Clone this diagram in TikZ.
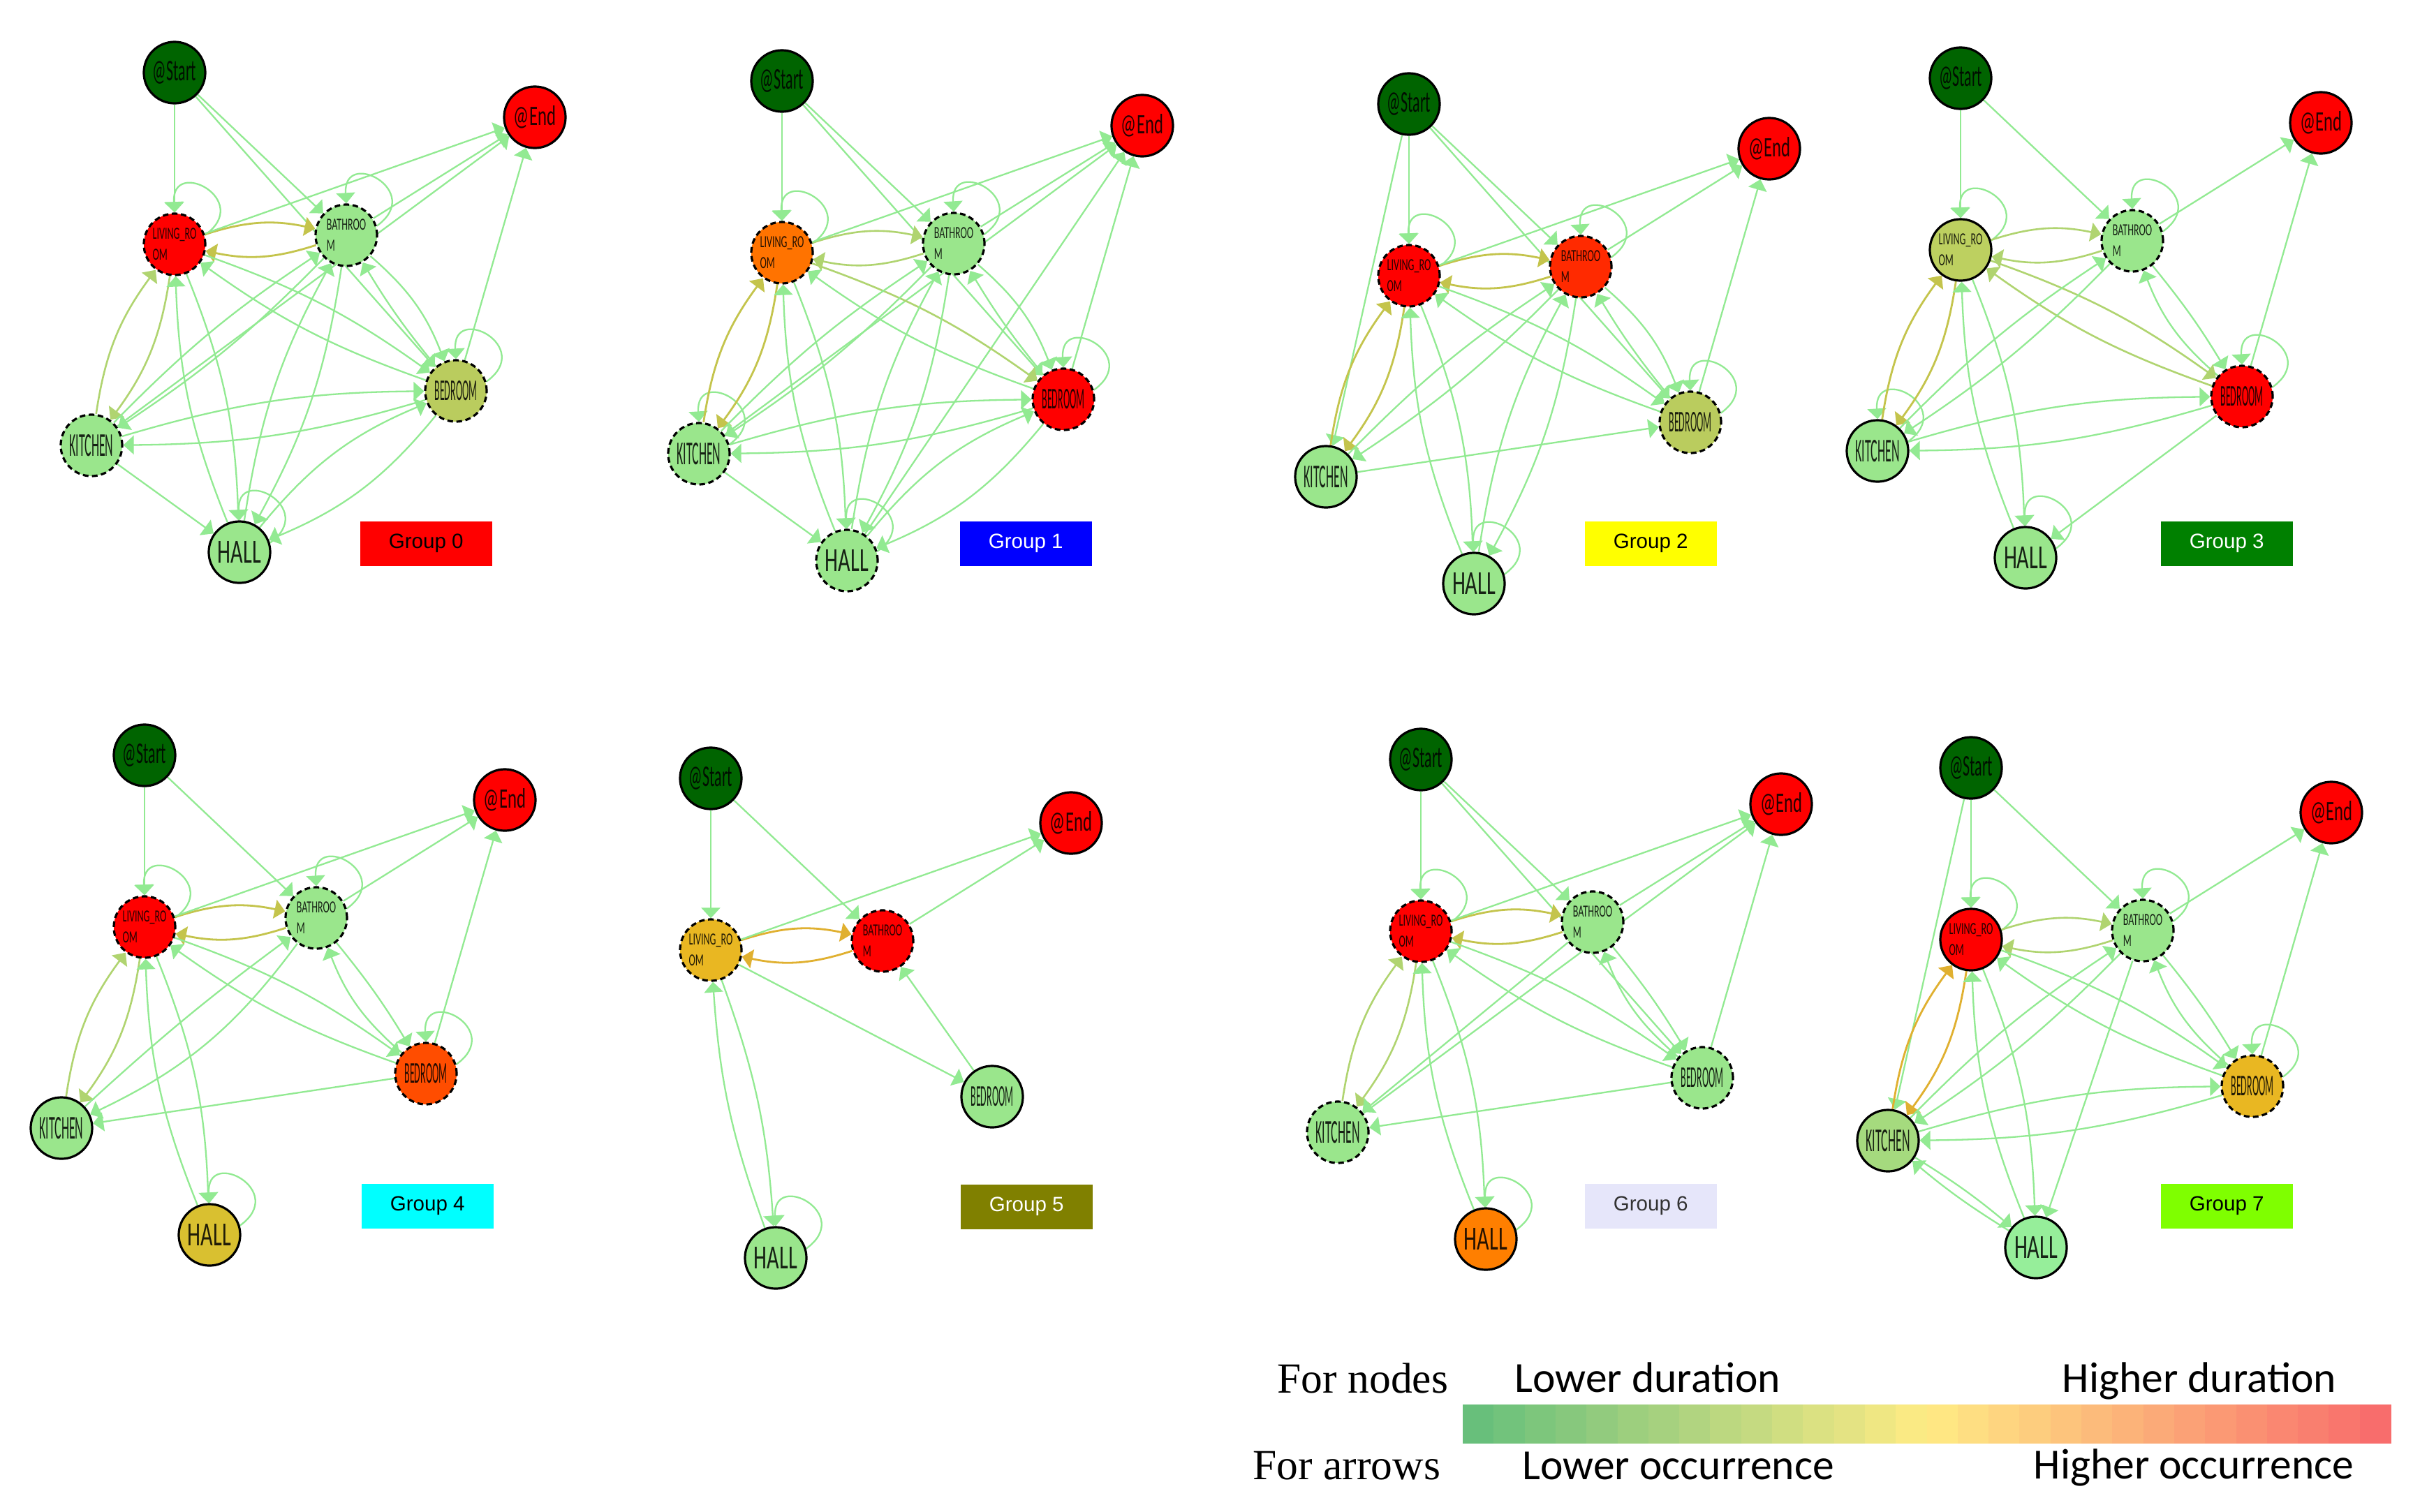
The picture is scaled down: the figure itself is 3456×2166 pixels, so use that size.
\documentclass[tikz,border=0pt]{standalone}
\usepackage{fontspec}
\usepackage{graphicx}
\setmainfont{Liberation Serif}
\newfontfamily\calib{Carlito}
\newfontfamily\arialf{Liberation Sans}
\newfontfamily\condf[FakeStretch=0.58]{Carlito}
\usetikzlibrary{arrows.meta,backgrounds}
\definecolor{cS}{HTML}{006400}
\definecolor{cR}{HTML}{FF0000}
\definecolor{cLG}{HTML}{9AE68C}
\definecolor{cOl}{HTML}{BACC5E}
\definecolor{cOr}{HTML}{FF7300}
\definecolor{cRO}{HTML}{FF2A00}
\definecolor{cOlt}{HTML}{BDD060}
\definecolor{cORf}{HTML}{FF4D00}
\definecolor{cGdf}{HTML}{D9C030}
\definecolor{cGd}{HTML}{E9B722}
\definecolor{cHo}{HTML}{FF7F00}
\definecolor{cKs}{HTML}{A5DA7E}
\definecolor{cHs}{HTML}{96EE9A}
\definecolor{eG}{HTML}{92EA92}
\definecolor{eY}{HTML}{C4C44C}
\definecolor{eYG}{HTML}{B0D470}
\definecolor{eGd}{HTML}{E0B030}
\definecolor{lgG}{HTML}{63BE7B}
\definecolor{lgY}{HTML}{FFEB84}
\definecolor{lgR}{HTML}{F8696B}
\definecolor{glB}{HTML}{0000FF}
\definecolor{glY}{HTML}{FFFF00}
\definecolor{glG}{HTML}{008000}
\definecolor{glC}{HTML}{00FFFF}
\definecolor{glO}{HTML}{808000}
\definecolor{glL}{HTML}{E6E6FA}
\definecolor{glCh}{HTML}{7FFF00}
\tikzset{
  nd/.style={circle,draw=black,line width=0.032cm,minimum size=0.88cm,inner sep=0pt,text=black,text opacity=0.85},
  dsh/.style={dash pattern=on 0.08cm off 0.05cm},
  lb/.style={align=left,font=\condf\fontsize{6.9pt}{8.5pt}\selectfont},
  ed/.style={draw=eG,line width=0.023cm,-{Triangle[length=0.15cm,width=0.27cm]}},
  yl/.style={draw=eY,line width=0.028cm},
  ygl/.style={draw=eYG,line width=0.026cm},
  gdl/.style={draw=eGd,line width=0.028cm},
  glab/.style={anchor=north west,minimum width=1.89cm,minimum height=0.64cm,inner sep=0pt,font=\arialf\fontsize{8.4pt}{10pt}\selectfont},
  lgt/.style={anchor=base west,inner sep=0pt},
}
\newcommand\labS{\resizebox{0.62cm}{0.28cm}{\calib @Start}}
\newcommand\labE{\resizebox{0.60cm}{0.28cm}{\calib @End}}
\newcommand\labH{\resizebox{0.62cm}{0.31cm}{\calib HALL}}
\newcommand\labK{\resizebox{0.63cm}{0.31cm}{\calib KITCHEN}}
\newcommand\labD{\resizebox{0.61cm}{0.28cm}{\calib BEDROOM}}
\newcommand\MkS{\node[nd,fill=cS] (\gp S) at (250,-104) {\labS};}
\newcommand\MkE{\node[nd,fill=cR] (\gp E) at (766,-168) {\labE};}
\newcommand\MkL[1]{\node[nd,lb,#1] (\gp L) at (250,-350) {LIVING\_RO\\OM};}
\newcommand\MkB[1]{\node[nd,lb,#1] (\gp B) at (496,-337) {BATHROO\\M};}
\newcommand\MkD[1]{\node[nd,#1] (\gp D) at (653,-560) {\labD};}
\newcommand\MkK[1]{\node[nd,#1] (\gp K) at (131,-638) {\labK};}
\newcommand\MkH[1]{\node[nd,#1] (\gp H) at (343,-791) {\labH};}
\newcommand\EdS[3][]{\draw[ed,#1] (\gp#2) -- (\gp#3);}
\newcommand\EdB[4][]{\draw[ed,#1] (\gp#2) to[bend left=#4] (\gp#3);}
\newcommand\EdL[2][]{\draw[ed,#1] (\gp#2.17) .. controls +(70,50) and +(-5,80) .. (\gp#2.north);}
\newcommand\EdP[4][]{\EdB[#1]{#2}{#3}{#4}\EdB[#1]{#3}{#2}{#4}}
\begin{document}
\begin{tikzpicture}[x=0.01cm,y=0.01cm]
\useasboundingbox (0,0) rectangle (3456,-2166);
\begin{scope}[on background layer]
\fill[white] (0,0) rectangle (3456,-2166);
\end{scope}
% ---------------- Group 0
\def\gp{g0}
\begin{scope}[shift={(0,0)}]
\MkS \MkE \MkL{dsh,fill=cR} \MkB{dsh,fill=cLG} \MkD{dsh,fill=cOl} \MkK{dsh,fill=cLG} \MkH{fill=cLG}
\end{scope}
\node[glab,fill=cR,text=black] (g0lab) at (515,-746) {Group 0};
\begin{scope}[on background layer]
\EdS{S}{L}\EdS{S}{B}\EdS{S}{D}
\EdL{L}\EdL{B}\EdL{D}\EdL{H}
\EdP[yl]{L}{B}{15}
\EdS{L}{E}\EdS{B}{E}\EdS{K}{E}\EdS{D}{E}
\EdB{B}{D}{14}\EdB{D}{B}{4}
\EdP{L}{D}{8}
\EdP[ygl]{L}{K}{14}
\EdP{L}{H}{10}
\EdP{B}{K}{6}
\EdP{B}{H}{10}
\EdP{D}{K}{8}
\EdP{D}{H}{14}
\EdS{K}{H}
\end{scope}
% ---------------- Group 1
\def\gp{g1}
\begin{scope}[shift={(870,-12)}]
\MkS \MkE \MkL{dsh,fill=cOr} \MkB{dsh,fill=cLG} \MkD{dsh,fill=cR} \MkK{dsh,fill=cLG} \MkH{dsh,fill=cLG}
\end{scope}
\node[glab,fill=glB,text=white] (g1lab) at (1374,-746) {Group 1};
\begin{scope}[on background layer]
\EdS{S}{L}\EdS{S}{B}\EdS{S}{D}
\EdL{L}\EdL{B}\EdL{D}\EdL{K}\EdL{H}
\EdP[ygl]{L}{B}{15}
\EdS{L}{E}\EdS{B}{E}\EdS{K}{E}\EdS{D}{E}\EdS{H}{E}
\EdB{B}{D}{14}\EdB{D}{B}{4}
\EdB[ygl]{L}{D}{8}\EdB{D}{L}{8}
\EdP[yl]{L}{K}{14}
\EdP{L}{H}{10}
\EdP{B}{K}{6}
\EdP{B}{H}{10}
\EdP{D}{K}{8}
\EdP{D}{H}{14}
\EdS{K}{H}
\end{scope}
% ---------------- Group 2
\def\gp{g2}
\begin{scope}[shift={(1768,-45)}]
\MkS \MkE \MkL{dsh,fill=cR} \MkB{dsh,fill=cRO} \MkD{dsh,fill=cOl} \MkK{fill=cLG} \MkH{fill=cLG}
\end{scope}
\node[glab,fill=glY,text=black] (g2lab) at (2269,-746) {Group 2};
\begin{scope}[on background layer]
\EdS{S}{L}\EdS{S}{B}\EdS{S}{D}\EdS{S}{K}
\EdL{L}\EdL{B}\EdL{D}\EdL{H}
\EdP[yl]{L}{B}{15}
\EdS{L}{E}\EdS{B}{E}\EdS{D}{E}
\EdB{B}{D}{14}\EdB{D}{B}{4}
\EdP{L}{D}{8}
\EdP[yl]{L}{K}{14}
\EdP{L}{H}{10}
\EdP{B}{K}{6}
\EdP{B}{H}{10}
\EdS{K}{D}
\end{scope}
% ---------------- Group 3
\def\gp{g3}
\begin{scope}[shift={(2558,-8)}]
\MkS \MkE \MkL{fill=cOlt} \MkB{dsh,fill=cLG} \MkD{dsh,fill=cR} \MkK{fill=cLG} \MkH{fill=cLG}
\end{scope}
\node[glab,fill=glG,text=white] (g3lab) at (3094,-746) {Group 3};
\begin{scope}[on background layer]
\EdS{S}{L}\EdS{S}{B}
\EdL{L}\EdL{B}\EdL{D}\EdL{K}\EdL{H}
\EdP[ygl]{L}{B}{15}
\EdS{B}{E}\EdS{D}{E}
\EdB{B}{D}{4}\EdB{D}{B}{14}
\EdP[ygl]{L}{D}{8}
\EdP[yl]{L}{K}{14}
\EdP{L}{H}{10}
\EdP{B}{K}{6}
\EdP{D}{K}{8}
\EdS{D}{H}
\end{scope}
% ---------------- Group 4
\def\gp{g4}
\begin{scope}[shift={(-43,-978)}]
\MkS \MkE \MkL{dsh,fill=cR} \MkB{dsh,fill=cLG} \MkD{dsh,fill=cORf} \MkK{fill=cLG} \MkH{fill=cGdf}
\end{scope}
\node[glab,fill=glC,text=black] (g4lab) at (517,-1695) {Group 4};
\begin{scope}[on background layer]
\EdS{S}{L}\EdS{S}{B}
\EdL{L}\EdL{B}\EdL{D}\EdL{H}
\EdP[yl]{L}{B}{15}
\EdS{L}{E}\EdS{B}{E}\EdS{D}{E}
\EdB{B}{D}{4}\EdB{D}{B}{14}
\EdP{L}{D}{8}
\EdP[ygl]{L}{K}{14}
\EdP{L}{H}{10}
\EdB{K}{B}{3}\EdB{B}{K}{14}
\EdS{D}{K}
\end{scope}
% ---------------- Group 5
\def\gp{g5}
\begin{scope}[shift={(768,-1011)}]
\MkS \MkE \MkL{dsh,fill=cGd} \MkB{dsh,fill=cR} \MkD{fill=cLG} \MkH{fill=cLG}
\end{scope}
\node[glab,fill=glO,text=white] (g5lab) at (1375,-1696) {Group 5};
\begin{scope}[on background layer]
\EdS{S}{L}\EdS{S}{B}
\EdL{H}
\EdP[gdl]{L}{B}{15}
\EdS{L}{E}\EdS{B}{E}
\EdS{L}{D}\EdS{D}{B}
\EdP{L}{H}{8}
\end{scope}
% ---------------- Group 6
\def\gp{g6}
\begin{scope}[shift={(1785,-984)}]
\MkS \MkE \MkL{dsh,fill=cR} \MkB{dsh,fill=cLG} \MkD{dsh,fill=cLG} \MkK{dsh,fill=cLG} \MkH{fill=cHo}
\end{scope}
\node[glab,fill=glL,text=black!80] (g6lab) at (2269,-1695) {Group 6};
\begin{scope}[on background layer]
\EdS{S}{L}\EdS{S}{B}\EdS{S}{D}
\EdL{L}\EdL{H}
\EdP[yl]{L}{B}{15}
\EdS{L}{E}\EdS{B}{E}\EdS{K}{E}\EdS{D}{E}
\EdB{B}{D}{4}\EdB{D}{B}{14}
\EdP{L}{D}{8}
\EdP[ygl]{L}{K}{14}
\EdP{L}{H}{10}
\EdS{B}{K}
\EdS{D}{K}
\end{scope}
% ---------------- Group 7
\def\gp{g7}
\begin{scope}[shift={(2573,-996)}]
\MkS \MkE \MkL{fill=cR} \MkB{dsh,fill=cLG} \MkD{dsh,fill=cGd} \MkK{fill=cKs} \MkH{fill=cHs}
\end{scope}
\node[glab,fill=glCh,text=black] (g7lab) at (3094,-1695) {Group 7};
\begin{scope}[on background layer]
\EdS{S}{L}\EdS{S}{B}\EdS{S}{K}
\EdL{L}\EdL{B}\EdL{D}
\EdP[ygl]{L}{B}{15}
\EdS{B}{E}\EdS{D}{E}
\EdB{B}{D}{4}\EdB{D}{B}{14}
\EdP{L}{D}{8}
\EdP[gdl]{L}{K}{14}
\EdP{L}{H}{10}
\EdP{B}{K}{6}
\EdS{B}{H}
\EdP{D}{K}{8}
\EdP{K}{H}{4}
\end{scope}
% ---------------- Legend
\foreach \i in {0,...,29}{
  \pgfmathsetmacro\bandt{(\i+0.5)/30}
  \ifdim\bandt pt<0.5pt
    \pgfmathtruncatemacro\bandp{round(100*(1-2*\bandt))}
    \colorlet{bandc}{lgG!\bandp!lgY}
  \else
    \pgfmathtruncatemacro\bandp{round(100*(2*\bandt-1))}
    \colorlet{bandc}{lgR!\bandp!lgY}
  \fi
  \fill[bandc] ({2095+\i*44.3},-2012) rectangle ({2095+(\i+1)*44.3+0.6},-2068);
}
\node[lgt,font=\fontsize{17.5pt}{20pt}\selectfont] (fnodes) at (1829,-1995) {For nodes};
\node[lgt,font=\fontsize{17.5pt}{20pt}\selectfont] (farrows) at (1794,-2119) {For arrows};
\node[lgt,font=\calib\fontsize{17.5pt}{20pt}\selectfont] (lowdur) at (2169,-1994) {Lower duration};
\node[lgt,font=\calib\fontsize{17.5pt}{20pt}\selectfont] (highdur) at (2953,-1994) {Higher duration};
\node[lgt,font=\calib\fontsize{17.5pt}{20pt}\selectfont] (lowocc) at (2180,-2119) {Lower occurrence};
\node[lgt,font=\calib\fontsize{17.5pt}{20pt}\selectfont] (highocc) at (2912,-2118) {Higher occurrence};
\end{tikzpicture}
\end{document}
